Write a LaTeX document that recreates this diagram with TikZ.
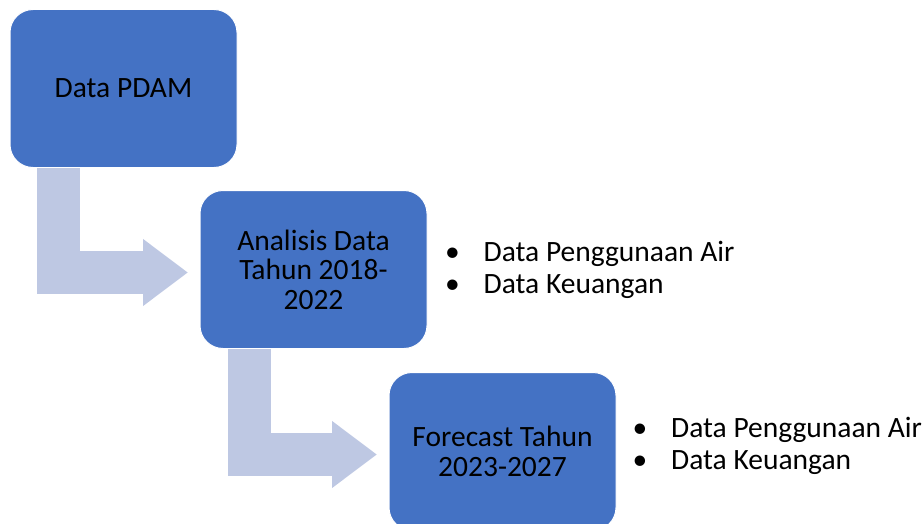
\documentclass[tikz,border=0pt]{standalone}
\usepackage{fontspec}
\setmainfont{Carlito}
\usetikzlibrary{positioning,arrows.meta}
\definecolor{BoxBlue}{RGB}{68,114,196}
\definecolor{ArrowTint}{RGB}{190,200,227}
\begin{document}
\begin{tikzpicture}[
    x=1pt,y=1pt,
    box/.style={rectangle,rounded corners=23pt,fill=BoxBlue,draw=white,line width=1pt,
                minimum width=227pt,minimum height=158pt,inner sep=0pt,align=center,
                font=\fontsize{29.5}{29.5}\selectfont},
    bentarrow/.style={-{Triangle[width=64pt,length=45pt]},line width=43pt,ArrowTint},
    bullets/.style={inner sep=0pt,align=left,font=\fontsize{29.5}{32}\selectfont}
]
\useasboundingbox (0,0) rectangle (923,-524);

% Stage 1: PDAM data
\node[box] (pdam) at (123.5,-88.5) {Data PDAM};

% Stage 2: Analysis 2018-2022
\node[box,below right=22pt and -38pt of pdam] (analisis) {Analisis Data\\Tahun 2018-\\2022};
\node[bullets,right=17.5pt of analisis] (list1) {
    \makebox[38.5pt][l]{\textbullet}Data Penggunaan Air\\
    \makebox[38.5pt][l]{\textbullet}Data Keuangan
};

% Stage 3: Forecast 2023-2027
\node[box,below right=23pt and -39pt of analisis] (forecast) {Forecast Tahun\\2023-2027};
\node[bullets,right=16pt of forecast,yshift=6pt] (list2) {
    \makebox[38.5pt][l]{\textbullet}Data Penggunaan Air\\
    \makebox[38.5pt][l]{\textbullet}Data Keuangan
};

% Bent arrows between stages
\draw[bentarrow] ([xshift=48.5pt]pdam.south west) |- ([xshift=-11.5pt,yshift=-3pt]analisis.west);
\draw[bentarrow] ([xshift=49.5pt]analisis.south west) |- ([xshift=-11.5pt,yshift=-3pt]forecast.west);

\end{tikzpicture}
\end{document}
